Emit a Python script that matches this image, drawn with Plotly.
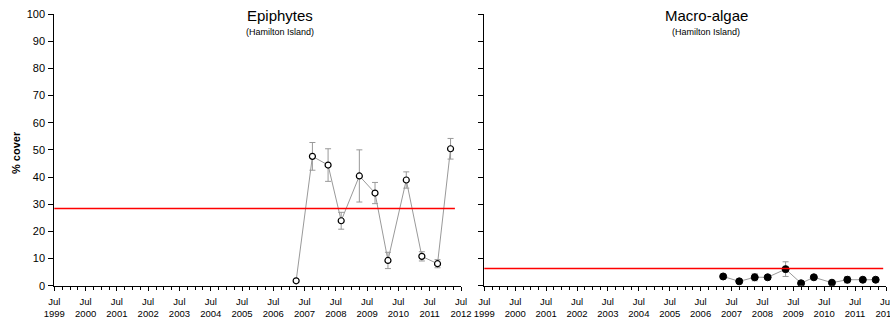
import plotly.graph_objects as go

# ---- data ----
survey_dates = ["2007-03-25", "2007-10-01", "2008-04-01", "2008-09-01", "2009-04-01",
                "2009-10-01", "2010-03-01", "2010-10-01", "2011-04-01", "2011-10-01", "2012-03-01"]
epiphytes = [1.8, 47.6, 44.4, 23.9, 40.4, 34.1, 9.3, 38.9, 10.8, 8.1, 50.4]
epiphytes_se = [0.5, 5.1, 6.0, 3.1, 9.6, 3.9, 3.0, 3.0, 1.7, 1.5, 3.8]
macroalgae = [3.4, 1.6, 3.1, 3.1, 6.1, 0.9, 3.1, 1.1, 2.2, 2.2, 2.2]
macroalgae_se = [0.6, 0.4, 1.3, 0.5, 2.7, 0.3, 0.5, 0.3, 1.2, 0.5, 0.5]
epiphytes_guideline = 28.4
macroalgae_guideline = 6.35
tick_years = list(range(1999, 2013))
tick_vals = [f"{y}-07-01" for y in tick_years]
tick_text = [f"Jul<br>{y}" for y in tick_years]
panel_titles = ["Epiphytes", "Macro-algae"]
panel_sub = "(Hamilton Island)"
y_title = "% cover"

W, H = 890, 321
FONT = "Arial, Liberation Sans, sans-serif"

fig = go.Figure()

fig.add_trace(go.Scatter(
    x=survey_dates, y=epiphytes, mode="lines+markers", xaxis="x", yaxis="y",
    line=dict(color="#999999", width=1),
    marker=dict(symbol="circle", size=6, color="white", line=dict(color="black", width=1.2)),
    error_y=dict(type="data", array=epiphytes_se, color="#999999", thickness=1, width=3),
    showlegend=False))

fig.add_trace(go.Scatter(
    x=survey_dates, y=macroalgae, mode="lines+markers", xaxis="x2", yaxis="y2",
    line=dict(color="#999999", width=1),
    marker=dict(symbol="circle", size=7, color="black", line=dict(color="black", width=1)),
    error_y=dict(type="data", array=macroalgae_se, color="#999999", thickness=1, width=3),
    showlegend=False))

# guideline lines
fig.add_shape(type="line", xref="x domain", yref="y", x0=0, x1=0.985,
              y0=epiphytes_guideline, y1=epiphytes_guideline, line=dict(color="red", width=1.5))
fig.add_shape(type="line", xref="x2 domain", yref="y2", x0=0, x1=0.993,
              y0=macroalgae_guideline, y1=macroalgae_guideline, line=dict(color="red", width=1.5))

xl = (54.3 / W, 461 / W)
xr = (484.3 / W, 886 / W)
yd = ((H - 285.7) / H, (H - 14) / H)

xcommon = dict(type="date", range=["1999-07-01", "2012-07-01"], tickmode="array",
               tickvals=tick_vals, ticktext=tick_text, ticks="outside", ticklen=4,
               tickcolor="black", showline=True, linecolor="black", linewidth=1,
               showgrid=False, zeroline=False, automargin=False,
               ticklabeloverflow="allow", ticklabelstandoff=3,
               tickfont=dict(family=FONT, size=9.5, color="black"),
               minor=dict(ticks="outside", dtick="M3", tick0="1999-07-01", ticklen=3,
                          tickcolor="black", showgrid=False))
ycommon = dict(range=[0, 100], tickmode="linear", tick0=0, dtick=10, ticks="outside",
               ticklen=5, tickcolor="black", showline=True, linecolor="black", linewidth=1,
               showgrid=False, zeroline=False, automargin=False,
               tickfont=dict(family=FONT, size=11, color="black"), ticklabelstandoff=1)

fig.update_layout(
    width=W, height=H, margin=dict(l=0, r=0, t=0, b=0),
    paper_bgcolor="white", plot_bgcolor="white",
    xaxis=dict(domain=xl, anchor="y", **xcommon),
    xaxis2=dict(domain=xr, anchor="y2", **xcommon),
    yaxis=dict(domain=yd, anchor="x", **ycommon),
    yaxis2=dict(domain=yd, anchor="x2", showticklabels=False,
                **{k: v for k, v in ycommon.items() if k not in ("tickfont", "ticklabelstandoff")}),
)

ann = []
for cx, t in zip([280, 706], panel_titles):
    ann.append(dict(x=cx / W, y=1 - 15.5 / H, xref="paper", yref="paper", text=t,
                    showarrow=False, xanchor="center", yanchor="middle",
                    font=dict(family=FONT, size=15, color="black")))
    ann.append(dict(x=cx / W, y=1 - 32.5 / H, xref="paper", yref="paper", text=panel_sub,
                    showarrow=False, xanchor="center", yanchor="middle",
                    font=dict(family=FONT, size=9, color="black")))
ann.append(dict(x=16 / W, y=1 - 153 / H, xref="paper", yref="paper", text=f"<b>{y_title}</b>",
                showarrow=False, textangle=-90, xanchor="center", yanchor="middle",
                font=dict(family=FONT, size=11, color="black")))
fig.update_layout(annotations=ann)

fig.write_html("out.html", config={"displayModeBar": False},
               post_script="document.body.style.margin='0';document.body.style.overflow='hidden';")
